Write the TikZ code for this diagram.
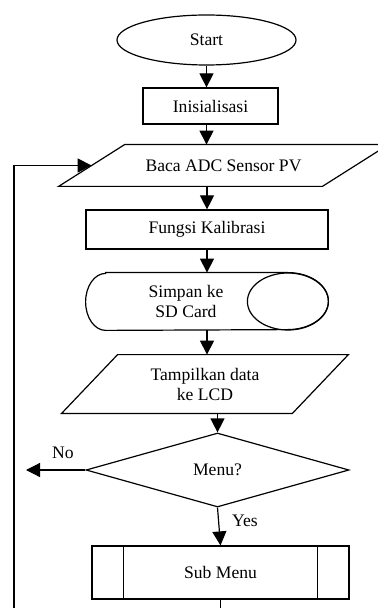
\documentclass[tikz,border=0pt]{standalone}
\usepackage{fontspec}
\setmainfont{Liberation Serif}
\usetikzlibrary{arrows.meta,calc,shapes.geometric}

\tikzset{
	txt/.style={font=\fontsize{8.8}{10}\selectfont, align=center},
	flow/.style={txt, draw, line width=0.6pt, inner sep=0pt},
	term/.style={flow, ellipse},
	proc/.style={flow, rectangle},
	io/.style={txt, rectangle, inner sep=0pt},
	line/.style={line width=0.6pt},
	arr/.style={line width=0.6pt, -{Triangle[length=7pt,width=7pt]}}
}
% parallelogram round a node: top edge pushed right, bottom edge pushed left
\def\slantbox(#1)(#2){\draw[line] ([xshift=#2]#1.north west) -- ([xshift=#2]#1.north east) -- ([xshift=-#2]#1.south east) -- ([xshift=-#2]#1.south west) -- cycle;}

\begin{document}
\begin{tikzpicture}[x=0.5pt, y=-0.5pt]
			%%%%% START %%%%%
			\useasboundingbox (0, 0) rectangle (377, 608);

			\node[term, minimum width=89.5pt, minimum height=25pt] (start) at (206.5, 40) {Start};
			\node[proc, minimum width=67.5pt, minimum height=18pt] (inis) at (210.5, 106) {Inisialisasi};
			\node[io, minimum width=131.5pt, minimum height=20.5pt] (baca) at (223.5, 165.5) {Baca ADC Sensor PV};
			\slantbox(baca)(16.5pt)
			\node[proc, minimum width=121pt, minimum height=19.5pt] (kalib) at (207, 229.5) {Fungsi Kalibrasi};

			% storage shape: round left end, full ellipse on the right
			\node[inner sep=0pt, minimum width=121pt, minimum height=28.5pt] (simpan) at (207, 301.5) {};
			\draw[line] ($(simpan.north west)+(10pt,0)$) -- ($(simpan.north east)+(-20.25pt,0)$)
				arc[start angle=90, end angle=-90, x radius=20.25pt, y radius=14.25pt]
				-- ($(simpan.south west)+(10pt,0)$)
				arc[start angle=270, end angle=90, x radius=10pt, y radius=14.25pt] -- cycle;
			\draw[line] ($(simpan.east)+(-20.25pt,0)$) ellipse[x radius=20.25pt, y radius=14.25pt];
			\node[txt] (simpantxt) at ([xshift=-10.5pt]simpan.center) {Simpan ke\\SD Card};

			\node[io, minimum width=115pt, minimum height=29pt] (tampil) at (205, 384) {Tampilkan data\\ke LCD};
			\slantbox(tampil)(14pt)
			\node[flow, diamond, aspect=3.55, minimum width=131.5pt, minimum height=37pt] (menu) at (217.5, 470) {Menu?};

			\node[proc, minimum width=128.5pt, minimum height=26.5pt] (submenu) at (220.5, 572.5) {Sub Menu};
			\draw[line] ([xshift=16pt]submenu.north west) -- ([xshift=16pt]submenu.south west);
			\draw[line] ([xshift=-16pt]submenu.north east) -- ([xshift=-16pt]submenu.south east);

			\coordinate (noend) at (26, 470);
			\coordinate (loop) at (14, 640);

			\draw[arr] (start.south) -- (start.south |- inis.north);
			\draw[arr] (inis.south -| start.south) -- (start.south |- baca.north);
			\draw[arr] (baca.south -| kalib.north) -- (kalib.north);
			\draw[arr] (kalib.south) -- (simpan.north);
			\draw[arr] (simpan.south) -- (simpan.south |- tampil.north);
			\draw[arr] (tampil.south -| menu.north) -- (menu.north);
			\draw[arr] (menu.south) -- (submenu.north);
			\draw[arr] (menu.west) -- (noend);
			\draw[arr] (submenu.south) |- (loop) |- (baca.west);

			\node[txt] (nolbl) at (63, 453) {No};
			\node[txt] (yeslbl) at (245, 521) {Yes};
			%%%%% END %%%%%
\end{tikzpicture}
\end{document}
